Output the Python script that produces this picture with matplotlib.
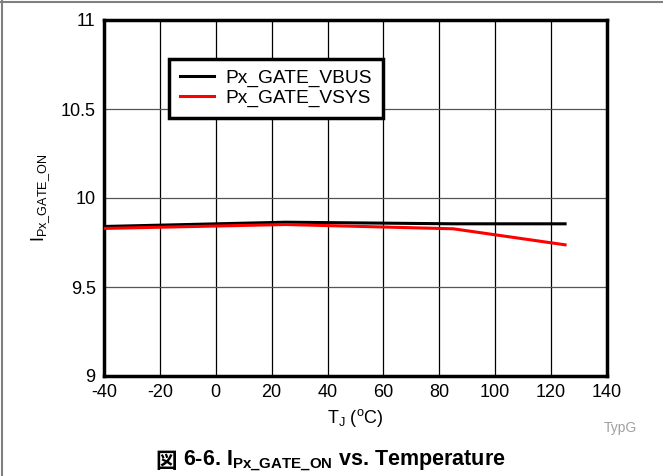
import matplotlib
matplotlib.use("Agg")
import matplotlib.pyplot as plt

# values
temp_c = [-40, 25, 85, 125]
vbus_ma = [9.840, 9.864, 9.855, 9.855]
vsys_ma = [9.829, 9.851, 9.827, 9.737]

x_ticks = [-40, -20, 0, 20, 40, 60, 80, 100, 120, 140]
y_ticks = [9, 9.5, 10, 10.5, 11]
y_tick_labels = ["9", "9.5", "10", "10.5", "11"]
series_names = ["Px_GATE_VBUS", "Px_GATE_VSYS"]

plt.rcParams['font.family'] = ['Liberation Sans', 'DejaVu Sans']
plt.rcParams['axes.unicode_minus'] = False
plt.rcParams['mathtext.fontset'] = 'custom'
plt.rcParams['mathtext.rm'] = 'Liberation Sans'
plt.rcParams['mathtext.bf'] = 'Liberation Sans:bold'

fig = plt.figure(figsize=(6.63, 4.76), dpi=100)
W, H = 663, 476
ax = fig.add_axes([104 / W, 1 - 376 / H, (607 - 104) / W, (376 - 20) / H])

ax.plot(temp_c, vbus_ma, color='black', lw=2.2, label=series_names[0], zorder=3)
ax.plot(temp_c, vsys_ma, color='#ff0000', lw=2.2, label=series_names[1], zorder=3)

ax.set_xlim(-40, 140)
ax.set_ylim(9, 11)
ax.set_xticks(x_ticks)
ax.set_yticks(y_ticks)
ax.set_yticklabels(y_tick_labels)
ax.tick_params(length=0, labelsize=13, pad=6)
ax.grid(axis='x', color='black', lw=0.9)
ax.grid(axis='y', color='#555555', lw=0.9)
for s in ax.spines.values():
    s.set_linewidth(2.5)

ax.set_xlabel(r"T$_\mathregular{J}$ ($^\mathregular{o}$C)", fontsize=13, labelpad=4)
ax.set_ylabel(r"I$_\mathregular{Px\_GATE\_ON}$", fontsize=13, labelpad=6)

leg = ax.legend(loc='upper left', bbox_to_anchor=((169 - 104) / 503, 1 - (59 - 20) / 356),
                fontsize=13.8, frameon=True, fancybox=False, edgecolor='black',
                borderaxespad=0, handlelength=1.8, handletextpad=0.6,
                labelspacing=0.12, borderpad=0.55)
leg.get_frame().set_linewidth(2.5)
leg.get_frame().set_alpha(1)

fig.text(620 / W, 1 - 428 / H, "TypG", color='#a0a0a0', fontsize=10, ha='center', va='center')
fig.text(177 / W, 1 - 461 / H, "図", fontsize=15.5, fontweight='bold', ha='right', va='center',
         family=['Noto Sans CJK JP'])
fig.text(183 / W, 1 - 461 / H, r"6-6. I$_\mathbf{Px\_GATE\_ON}$ vs. Temperature",
         fontsize=15.5, fontweight='bold', ha='left', va='center')

# page border on top and left
fig.add_artist(plt.Line2D([0, 1], [1 - 1.5 / H, 1 - 1.5 / H], color='#808080', lw=1.5))
fig.add_artist(plt.Line2D([1.5 / W, 1.5 / W], [0, 1], color='#808080', lw=1.5))

fig.savefig("out.png", dpi=100)
